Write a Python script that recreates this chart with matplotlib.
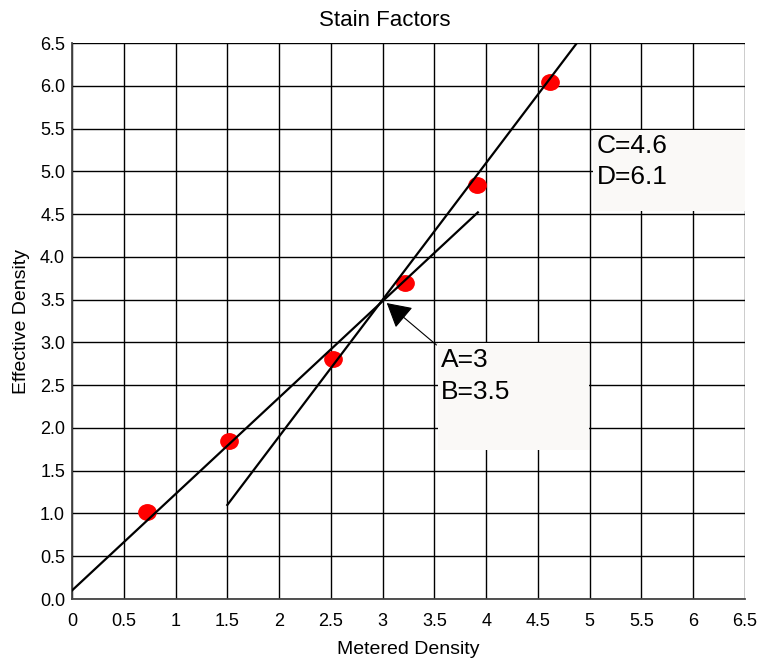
import matplotlib
matplotlib.use('Agg')
import numpy as np
from matplotlib import pyplot as plt
from matplotlib.patches import Rectangle
from matplotlib.path import Path
from matplotlib.transforms import Affine2D

plt.rcParams['font.family'] = ['Liberation Sans', 'DejaVu Sans']

# measured points
metered = [0.72, 1.52, 2.52, 3.22, 3.91, 4.62]
effective = [1.02, 1.85, 2.81, 3.70, 4.84, 6.05]

# hand drawn fit lines
line1_x = [0.0, 3.92]
line1_y = [0.10, 4.52]
line2_x = [1.5, 4.92]
line2_y = [1.10, 6.57]

ticks = np.arange(0, 6.51, 0.5)
xtick_labels = ['0', '0.5', '1', '1.5', '2', '2.5', '3', '3.5', '4', '4.5', '5', '5.5', '6', '6.5']
ytick_labels = ['%.1f' % t for t in ticks]

fig = plt.figure(figsize=(7.61, 6.65), dpi=100)
ax = fig.add_axes([0.0946, 0.0992, 0.8844, 0.8361])

ax.set_xlim(0, 6.5)
ax.set_ylim(0, 6.5)
ax.set_xticks(ticks)
ax.set_xticklabels(xtick_labels)
ax.set_yticks(ticks)
ax.set_yticklabels(ytick_labels)
ax.tick_params(length=0, labelsize=13)
ax.tick_params(axis='x', pad=10)
ax.tick_params(axis='y', pad=5)
ax.grid(True, color='black', lw=1.0, zorder=0)
ax.set_axisbelow(True)
for s in ax.spines.values():
    s.set_color('#444444')
    s.set_linewidth(1.3)
ax.spines['top'].set_visible(False)
ax.spines['right'].set_visible(False)

ax.plot(line1_x, line1_y, color='black', lw=1.6, zorder=3)
ax.plot(line2_x, line2_y, color='black', lw=1.6, zorder=3)

oval = Path.unit_circle().transformed(Affine2D().scale(1.0, 0.9))
ax.plot(metered, effective, linestyle='none', marker=oval, color='red',
        markersize=13.5, mec='none', zorder=2)

# label boxes
ax.add_patch(Rectangle((3.536, 1.743), 1.46, 1.25, facecolor='#faf9f7', edgecolor='none', zorder=4))
ax.add_patch(Rectangle((5.034, 4.538), 1.47, 0.947, facecolor='#faf9f7', edgecolor='none', zorder=4))
ax.text(3.565, 2.93, 'A=3\nB=3.5', fontsize=19, va='top', ha='left', linespacing=1.4, zorder=5)
ax.text(5.07, 5.44, 'C=4.6\nD=6.1', fontsize=19, va='top', ha='left', linespacing=1.4, zorder=5)

ax.annotate('', xy=(3.04, 3.46), xytext=(3.52, 2.97),
            arrowprops=dict(arrowstyle='-|>,head_length=0.75,head_width=0.42',
                            mutation_scale=20, color='black', lw=0.8,
                            shrinkA=0, shrinkB=0),
            zorder=6)

fig.text(385 / 761, 1 - 26 / 665, 'Stain Factors', fontsize=16, ha='center', va='baseline')
ax.set_xlabel('Metered Density', fontsize=14, labelpad=8)
ax.set_ylabel('Effective Density', fontsize=14, labelpad=7)

plt.savefig('out.png', dpi=100)
